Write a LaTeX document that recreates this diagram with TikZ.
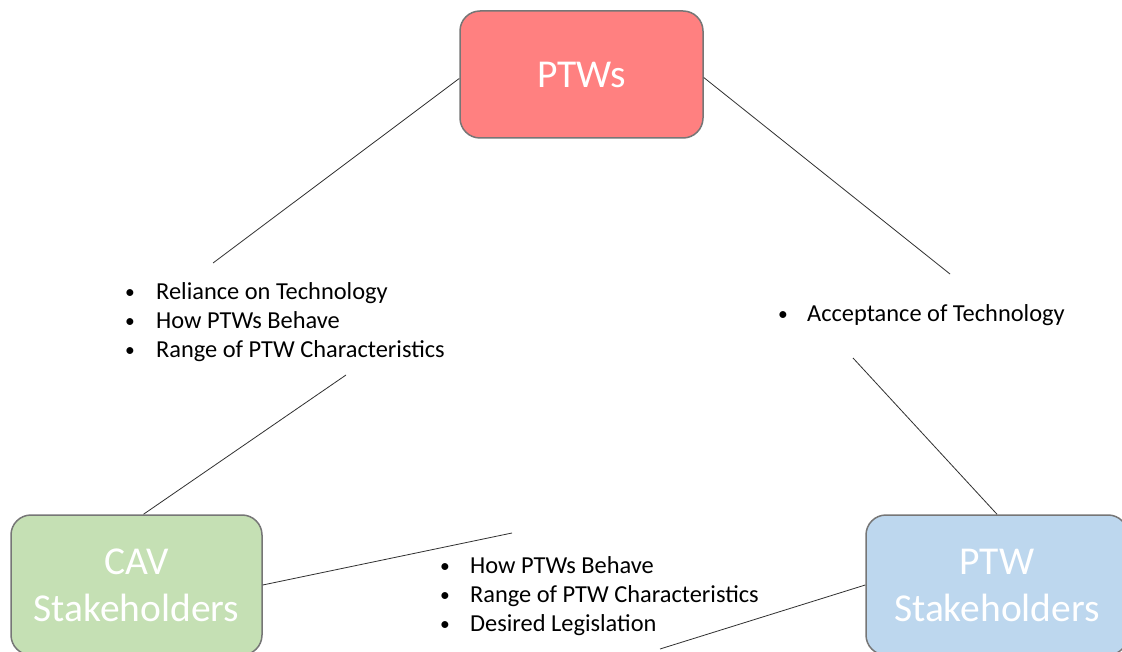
\documentclass[tikz,border=0pt]{standalone}
\usepackage{fontspec}
\setmainfont{Carlito}
\definecolor{ptwred}{HTML}{FF8080}
\definecolor{cavgreen}{HTML}{C5E0B4}
\definecolor{ptwblue}{HTML}{BDD7EE}
\definecolor{boxgray}{HTML}{767676}
\definecolor{linegray}{HTML}{303030}
\newcommand{\bulw}[1]{\makebox[#1][l]{\hspace{1pt}\raisebox{1pt}{\scalebox{0.8}{\textbullet}}}}
\begin{document}
\begin{tikzpicture}[x=1pt,y=-1pt,
  box/.style={draw=boxgray, line width=1.5pt, rounded corners=20pt, inner sep=0pt,
    text=white, align=center, font=\fontsize{39.5}{47}\selectfont},
  conn/.style={draw=linegray, line width=0.8pt},
  list/.style={inner sep=0pt, anchor=base west, font=\fontsize{24.4}{29}\selectfont}]
\useasboundingbox (0,0) rectangle (1122,652);
\clip (0,0) rectangle (1122,652);
\fill[white] (0,0) rectangle (1122,652);

\node[box, fill=ptwred, minimum width=243pt, minimum height=127pt] (ptws) at (581.5,74.5) {PTWs};
\node[box, fill=cavgreen, minimum width=251pt, minimum height=140pt] (cav) at (136.5,585) {CAV\\Stakeholders};
\node[box, fill=ptwblue, minimum width=262pt, minimum height=140pt] (ptw) at (997,585) {PTW\\Stakeholders};

\node[list] (l1) at (124,300) {\begin{tabular}[t]{@{}l@{}}\bulw{32pt}Reliance on Technology\\\bulw{32pt}How PTWs Behave\\\bulw{32pt}Range of PTW Characteristics\end{tabular}};
\node[list] (l2) at (777,322) {\begin{tabular}[t]{@{}l@{}}\bulw{30pt}Acceptance of Technology\end{tabular}};
\node[list] (l3) at (439,573) {\begin{tabular}[t]{@{}l@{}}\bulw{31pt}How PTWs Behave\\\bulw{31pt}Range of PTW Characteristics\\\bulw{31pt}Desired Legislation\end{tabular}};

\coordinate (c1) at (213,263);
\coordinate (c2) at (346,375);
\coordinate (c3) at (950,274);
\coordinate (c4) at (853,358);
\coordinate (c5) at (512,533);
\coordinate (c6) at (660,649);

\draw[conn] ([yshift=-4pt]ptws.west) -- (c1);
\draw[conn] (c2) -- ([xshift=7pt]cav.north);
\draw[conn] ([yshift=-3pt]ptws.east) -- (c3);
\draw[conn] (c4) -- (ptw.north);
\draw[conn] (cav.east) -- (c5);
\draw[conn] (ptw.west) -- (c6);
\end{tikzpicture}
\end{document}
